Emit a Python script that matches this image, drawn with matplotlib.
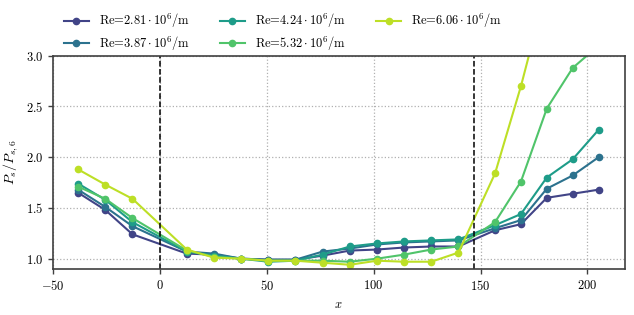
import numpy as np
import matplotlib
matplotlib.use('Agg')
import matplotlib.pyplot as plt

plt.rcParams['font.family'] = 'serif'
plt.rcParams['font.serif'] = ['cmr10']
plt.rcParams['mathtext.fontset'] = 'cm'
plt.rcParams['axes.formatter.use_mathtext'] = True
plt.rcParams['font.size'] = 9

# sensor positions
x = [-38.1, -25.4, -12.7, 12.7, 25.4, 38.1, 50.8, 63.5, 76.2, 88.9, 101.6,
     114.3, 127.0, 139.7, 156.8, 168.9, 181.0, 193.1, 205.2]

labels = [r'Re=$2.81\cdot10^6/\mathrm{m}$', r'Re=$3.87\cdot10^6/\mathrm{m}$',
          r'Re=$4.24\cdot10^6/\mathrm{m}$', r'Re=$5.32\cdot10^6/\mathrm{m}$',
          r'Re=$6.06\cdot10^6/\mathrm{m}$']

re281 = [1.65, 1.48, 1.24, 1.05, 1.04, 1.00, 0.99, 0.99, 1.03, 1.08, 1.09,
         1.11, 1.12, 1.12, 1.28, 1.34, 1.60, 1.64, 1.68]
re387 = [1.68, 1.51, 1.32, 1.07, 1.05, 1.00, 0.99, 0.99, 1.07, 1.10, 1.14,
         1.16, 1.17, 1.18, 1.30, 1.38, 1.69, 1.82, 2.00]
re424 = [1.74, 1.58, 1.36, 1.07, 1.03, 1.00, 0.97, 0.98, 1.04, 1.12, 1.15,
         1.17, 1.18, 1.19, 1.33, 1.44, 1.80, 1.98, 2.27]
re532 = [1.71, 1.59, 1.40, 1.08, 1.02, 1.00, 0.98, 0.98, 0.98, 0.97, 1.00,
         1.04, 1.09, 1.12, 1.36, 1.76, 2.48, 2.88, 3.10]
re606 = [1.88, 1.73, 1.59, 1.09, 1.01, 1.00, 0.98, 0.98, 0.96, 0.94, 0.98,
         0.97, 0.97, 1.06, 1.84, 2.70, 3.68, 4.50, 5.20]

series = [re281, re387, re424, re532, re606]
colors = plt.cm.viridis(np.linspace(0.2, 0.9, 5))

fig = plt.figure(figsize=(6.34, 3.15), dpi=100)
ax = fig.add_axes([0.0831, 0.145, 0.9022, 0.678])

for y, lab, c in zip(series, labels, colors):
    ax.plot(x, y, '-o', color=c, label=lab, lw=1.5, ms=4.5)

ax.axvline(0, color='k', ls='--', lw=1.1)
ax.axvline(147.1, color='k', ls='--', lw=1.1)

ax.set_xlim(-50, 217.4)
ax.set_ylim(0.895, 3.0)
ax.set_xticks([-50, 0, 50, 100, 150, 200])
ax.set_yticks([1.0, 1.5, 2.0, 2.5, 3.0])
ax.grid(True, ls=':', color='#b0b0b0', lw=0.9)
ax.set_axisbelow(True)
for s in ax.spines.values():
    s.set_color('#404040')
    s.set_linewidth(1.2)
ax.tick_params(color='#404040', length=3.5, width=1.0)

ax.set_xlabel(r'$x$')
ax.set_ylabel(r'$P_s/P_{s,6}$', fontsize=10)

ax.legend(loc='lower left', bbox_to_anchor=(0.006, 0.98), ncol=3, frameon=False,
          handlelength=2.0, columnspacing=2.4, labelspacing=0.35, borderaxespad=0.2)

fig.savefig('out.png', dpi=100)
